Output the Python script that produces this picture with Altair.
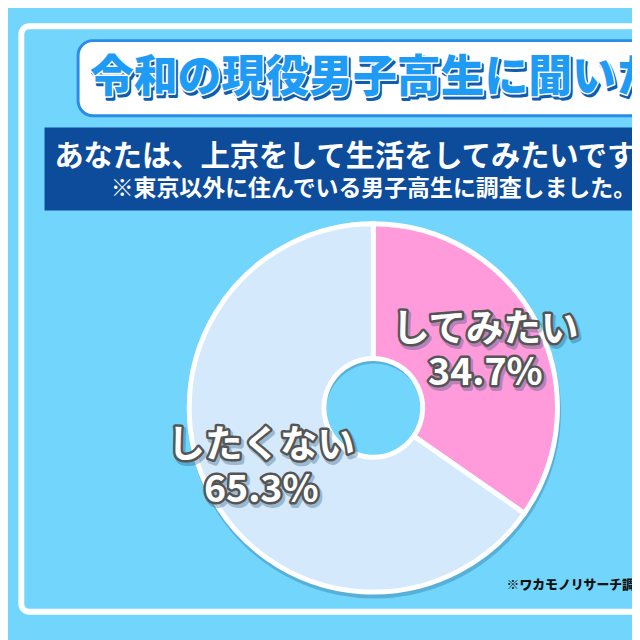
import altair as alt
import pandas as pd

# ---- data ----
categories = ["してみたい", "したくない"]
values = [34.7, 65.3]
orders = [0, 1]
slice_colors = ["#FF9BDA", "#D5E9FC"]

TITLE = "令和の現役男子高生に聞いた！"
QUESTION = "あなたは、上京をして生活をしてみたいですか？"
NOTE = "※東京以外に住んでいる男子高生に調査しました。"
SOURCE = "※ワカモノリサーチ調べ"

df = pd.DataFrame({"category": categories, "value": values, "order": orders})

FONT = "Noto Sans CJK JP"
BG = "#71D5FC"
CX, CY = 370, 401
one = alt.Data(values=[{}])

# ---- decoration ----
frame = alt.Chart(one).mark_rect(
    fillOpacity=0, stroke="white", strokeWidth=6, cornerRadius=8
).encode(x=alt.value(13.5), x2=alt.value(720), y=alt.value(14.5), y2=alt.value(607.5))

title_box = alt.Chart(one).mark_rect(
    fill="white", stroke="#2A8CE6", strokeWidth=3, cornerRadius=15
).encode(x=alt.value(71), x2=alt.value(720), y=alt.value(29), y2=alt.value(105))

def title_layer(color, dx, dy, stroke=None, sw=0):
    kw = dict(text=TITLE, font=FONT, fontWeight=900, fontSize=44.4, fill=color,
              align="left", baseline="middle", dx=dx, dy=dy)
    if stroke:
        kw.update(stroke=stroke, strokeWidth=sw, strokeJoin="round")
    return alt.Chart(one).mark_text(**kw).encode(x=alt.value(83), y=alt.value(68))

title_shadow = title_layer("#0E5DAE", 2, 3, "#0E5DAE", 3)
title_outline = title_layer("#1E9BF5", 0, 0, "white", 3)
title_text = title_layer("#1E9BF5", 0, 0)

band = alt.Chart(one).mark_rect(fill="#0D4C9B").encode(
    x=alt.value(37), x2=alt.value(720), y=alt.value(117), y2=alt.value(201)
)
q_text = alt.Chart(one).mark_text(
    text=QUESTION, font=FONT, fontWeight="bold", fontSize=29.6, fill="white",
    align="left", baseline="middle"
).encode(x=alt.value(47), y=alt.value(147))
n_text = alt.Chart(one).mark_text(
    text=NOTE, font=FONT, fontWeight="bold", fontSize=23.2, fill="white",
    align="left", baseline="middle"
).encode(x=alt.value(104), y=alt.value(179))

pie_shadow = alt.Chart(one).mark_arc(
    theta=0, theta2=6.2832, outerRadius=189, innerRadius=49,
    fill="#2C6E98", opacity=0.35
).encode(x=alt.value(CX + 1), y=alt.value(CY + 4))

# ---- pie ----
base = alt.Chart(df).transform_calculate(
    pct="format(datum.value, '.1f') + '%'"
).encode(
    theta=alt.Theta("value:Q", stack=True),
    order=alt.Order("order:Q"),
    x=alt.value(CX),
    y=alt.value(CY),
)

pie = base.mark_arc(
    outerRadius=186.5, innerRadius=50, stroke="white", strokeWidth=5
).encode(
    color=alt.Color("category:N",
                    scale=alt.Scale(domain=categories, range=slice_colors),
                    legend=None)
)

def label_layers(field, dy):
    common = dict(radius=128, dy=dy, font=FONT, fontWeight="bold", fontSize=38,
                  align="center", baseline="middle")
    shadow = base.mark_text(fill="#1A4A66", opacity=0.3, stroke="#1A4A66",
                            strokeWidth=6, strokeJoin="round",
                            **{**common, "dy": dy + 3, "dx": 2}).encode(text=f"{field}:N")
    outline = base.mark_text(fill="#555555", stroke="#555555", strokeWidth=5,
                             strokeJoin="round", **common).encode(text=f"{field}:N")
    fill = base.mark_text(fill="white", **common).encode(text=f"{field}:N")
    return [shadow, outline, fill]

labels = label_layers("category", -20) + label_layers("pct", 25)

source = alt.Chart(one).mark_text(
    text=SOURCE, font=FONT, fontWeight=900, fontSize=13, fill="#111111",
    align="left", baseline="middle"
).encode(x=alt.value(505), y=alt.value(580))

chart = alt.layer(
    frame, title_box, title_shadow, title_outline, title_text,
    band, q_text, n_text, pie_shadow, pie, *labels, source
).properties(
    width=632, height=632, padding=0, background=BG,
    autosize=alt.AutoSizeParams(type="none")
).configure_view(stroke=None)

chart.save("out.html", embed_options={"renderer": "svg", "actions": False})
